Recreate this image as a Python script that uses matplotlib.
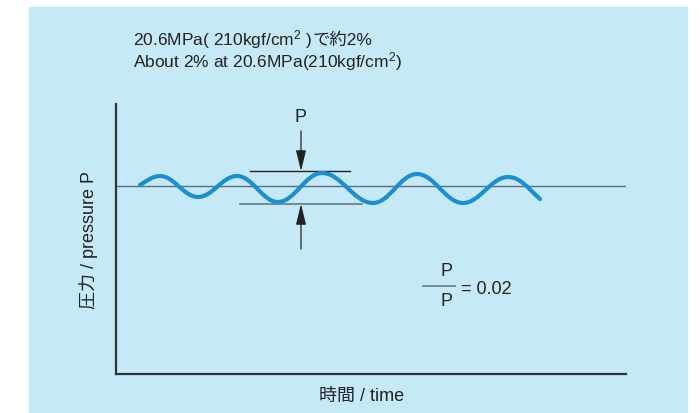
import numpy as np
import matplotlib
matplotlib.use("Agg")
import matplotlib.pyplot as plt
from matplotlib.path import Path
from matplotlib.patches import PathPatch, Rectangle

plt.rcParams['font.family'] = ['Liberation Sans', 'Noto Sans CJK JP', 'DejaVu Sans']
plt.rcParams['mathtext.fontset'] = 'custom'
plt.rcParams['mathtext.rm'] = 'Liberation Sans'
plt.rcParams['mathtext.default'] = 'rm'

# wave key points (start, alternating peaks/troughs, end) in axis units
wave_x = [24, 44, 82, 121, 162, 206, 257, 301, 347, 392, 424]
wave_y = [189, 198, 177, 198, 172, 201, 171, 200, 171, 197, 175]
base_level = 188
upper_level = 203
lower_level = 170
title_jp_a = "20.6MPa( 210kgf/cm$^2$ )"
title_jp_b = "で約2%"
title_en = "About 2% at 20.6MPa(210kgf/cm$^2$)"
xlabel = "時間 / time"
ylabel = "圧力 / pressure P"
ratio_text = "= 0.02"

W, H = 700, 414
FS = 13
TXT = "#222222"
fig = plt.figure(figsize=(7, 4.14), dpi=100)
fig.patches.append(Rectangle((29 / W, 0), (687 - 29) / W, (414 - 8) / H,
                             transform=fig.transFigure, color="#c6e9f8", zorder=-5))

ax = fig.add_axes([116 / W, (H - 375) / H, 510 / W, 270 / H])
ax.set_zorder(2)
ax.set_xlim(0, 510)
ax.set_ylim(0, 270)
ax.patch.set_alpha(0)
for s in ["top", "right"]:
    ax.spines[s].set_visible(False)
for s in ["left", "bottom"]:
    ax.spines[s].set_color("#333333")
    ax.spines[s].set_linewidth(1.6)
ax.set_xticks([])
ax.set_yticks([])

# baseline
ax.plot([0, 510], [base_level, base_level], color="#5d6d7a", lw=1.0)

# smooth wave through extremes (horizontal tangents at extremes)
k = 0.38
verts = [(wave_x[0], wave_y[0])]
codes = [Path.MOVETO]
n = len(wave_x)
for i in range(n - 1):
    x1, y1, x2, y2 = wave_x[i], wave_y[i], wave_x[i + 1], wave_y[i + 1]
    dx = x2 - x1
    c1 = (x1 + k * dx, y1) if i > 0 else (x1 + k * dx, y1 + (y2 - y1) * 0.5)
    c2 = (x2 - k * dx, y2) if i < n - 2 else (x2 - k * dx, y2 + (y1 - y2) * 0.5)
    verts += [c1, c2, (x2, y2)]
    codes += [Path.CURVE4] * 3
ax.add_patch(PathPatch(Path(verts, codes), fill=False, edgecolor="#1b8fd2",
                       lw=3.0, capstyle="round", zorder=3))

# reference lines for amplitude
ax.plot([134, 234], [upper_level, upper_level], color=TXT, lw=1.0)
ax.plot([124, 246], [lower_level, lower_level], color="#6a7885", lw=1.2)
arrow = dict(arrowstyle="-|>,head_length=0.9,head_width=0.22", color=TXT, lw=0.9,
             mutation_scale=14, shrinkA=0, shrinkB=0)
ax.annotate("", xy=(185, upper_level), xytext=(185, 243), arrowprops=arrow)
ax.annotate("", xy=(185, lower_level), xytext=(185, 125), arrowprops=arrow)
ax.text(185, 258, "P", ha="center", va="center", fontsize=FS, color=TXT)

# ratio
ax.text(331, 103, "P", ha="center", va="center", fontsize=FS, color=TXT)
ax.plot([307, 339], [88, 88], color="#6a7885", lw=1.2)
ax.text(331, 73, "P", ha="center", va="center", fontsize=FS, color=TXT)
ax.text(345, 86, ratio_text, ha="left", va="center", fontsize=FS, color=TXT)

# titles and labels
TFS = 12.5
y1 = 1 - 45 / H
t1 = fig.text(133 / W, y1, title_jp_a, ha="left", va="baseline", fontsize=TFS, color=TXT)
fig.canvas.draw()
bb = t1.get_window_extent()
fig.text(bb.x1 / W, y1, title_jp_b, ha="left", va="baseline", fontsize=TFS, color=TXT)
fig.text(133 / W, 1 - 67 / H, title_en, ha="left", va="baseline", fontsize=TFS, color=TXT)
fig.text(362 / W, 1 - 396 / H, xlabel, ha="center", va="center", fontsize=FS, color=TXT)
fig.text(88 / W, 1 - 240 / H, ylabel, ha="center", va="center", rotation=90,
         fontsize=FS, color=TXT)

fig.savefig("out.png", dpi=100)
